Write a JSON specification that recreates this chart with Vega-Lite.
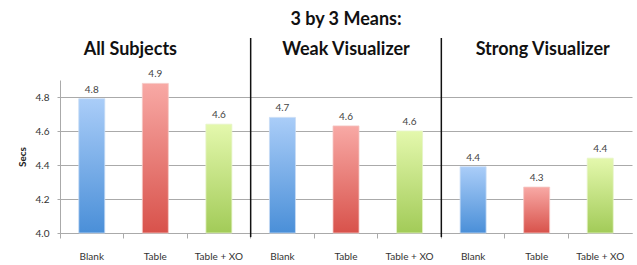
{
  "$schema": "https://vega.github.io/schema/vega-lite/v6.json",
  "autosize": {"type": "none"},
  "width": 572,
  "height": 153,
  "padding": {"left": 60, "top": 80, "right": 5, "bottom": 32},
  "background": "white",
  "config": {"view": {"stroke": null}, "font": "Lato"},
  "data": {"values": [
    {"key": "All Subjects|Blank", "group": "All Subjects", "cond": "Blank", "secs": 4.79},
    {"key": "All Subjects|Table", "group": "All Subjects", "cond": "Table", "secs": 4.88},
    {"key": "All Subjects|Table + XO", "group": "All Subjects", "cond": "Table + XO", "secs": 4.64},
    {"key": "Weak Visualizer|Blank", "group": "Weak Visualizer", "cond": "Blank", "secs": 4.68},
    {"key": "Weak Visualizer|Table", "group": "Weak Visualizer", "cond": "Table", "secs": 4.63},
    {"key": "Weak Visualizer|Table + XO", "group": "Weak Visualizer", "cond": "Table + XO", "secs": 4.6},
    {"key": "Strong Visualizer|Blank", "group": "Strong Visualizer", "cond": "Blank", "secs": 4.39},
    {"key": "Strong Visualizer|Table", "group": "Strong Visualizer", "cond": "Table", "secs": 4.27},
    {"key": "Strong Visualizer|Table + XO", "group": "Strong Visualizer", "cond": "Table + XO", "secs": 4.44}
  ]},
  "encoding": {
    "x": {
      "field": "key", "type": "nominal",
      "scale": {"paddingInner": 0, "paddingOuter": 0, "domain": [
        "All Subjects|Blank", "All Subjects|Table", "All Subjects|Table + XO",
        "Weak Visualizer|Blank", "Weak Visualizer|Table", "Weak Visualizer|Table + XO",
        "Strong Visualizer|Blank", "Strong Visualizer|Table", "Strong Visualizer|Table + XO"]},
      "axis": {
        "title": null, "bandPosition": 0,
        "labelExpr": "split(datum.label, '|')[1]", "labelAngle": 0,
        "labelFont": "Lato", "labelFontSize": 10, "labelColor": "#333",
        "labelPadding": 13, "tickSize": 5, "tickColor": "#aaa",
        "domainColor": "#aaa", "labelAlign": "center"
      }
    },
    "y": {
      "field": "secs", "type": "quantitative",
      "scale": {"domain": [4.0, 4.9], "nice": false, "zero": false},
      "axis": {
        "title": "Secs", "titleFont": "Lato", "titleFontSize": 10, "titleFontWeight": "bold",
        "titleColor": "#222", "titlePadding": 8,
        "values": [4.0, 4.2, 4.4, 4.6, 4.8], "format": ".1f",
        "labelFont": "Lato", "labelFontSize": 10, "labelColor": "#333", "labelPadding": 8,
        "tickSize": 3, "tickColor": "#aaa", "domainColor": "#aaa",
        "grid": true, "gridColor": "#aaa", "gridWidth": 1
      }
    }
  },
  "layer": [
    {
      "transform": [{"filter": "datum.cond == 'Blank'"}],
      "mark": {"type": "bar", "size": 26, "stroke": "#c8dcf5", "strokeWidth": 0.8,
        "color": {"gradient": "linear", "x1": 0, "y1": 0, "x2": 0, "y2": 1,
          "stops": [{"offset": 0, "color": "#aacdf8"}, {"offset": 1, "color": "#4a8fd8"}]}},
      "encoding": {"y2": {"datum": 4.0}}
    },
    {
      "transform": [{"filter": "datum.cond == 'Table'"}],
      "mark": {"type": "bar", "size": 26, "stroke": "#f5c8c5", "strokeWidth": 0.8,
        "color": {"gradient": "linear", "x1": 0, "y1": 0, "x2": 0, "y2": 1,
          "stops": [{"offset": 0, "color": "#f8a9a5"}, {"offset": 1, "color": "#d8524b"}]}},
      "encoding": {"y2": {"datum": 4.0}}
    },
    {
      "transform": [{"filter": "datum.cond == 'Table + XO'"}],
      "mark": {"type": "bar", "size": 26, "stroke": "#e6f5c8", "strokeWidth": 0.8,
        "color": {"gradient": "linear", "x1": 0, "y1": 0, "x2": 0, "y2": 1,
          "stops": [{"offset": 0, "color": "#e4f8ad"}, {"offset": 1, "color": "#a2cb58"}]}},
      "encoding": {"y2": {"datum": 4.0}}
    },
    {
      "mark": {"type": "text", "dy": -9, "font": "Lato", "fontSize": 10, "color": "#444"},
      "encoding": {"text": {"field": "secs", "type": "quantitative", "format": ".1f"}}
    },
    {
      "transform": [{"filter": "datum.cond == 'Blank' && datum.group != 'All Subjects'"}],
      "mark": {"type": "rule", "color": "#111", "strokeWidth": 1.5},
      "encoding": {
        "x": {"field": "key", "type": "nominal", "bandPosition": 0},
        "y": {"datum": 5.147},
        "y2": {"datum": 3.976}
      }
    },
    {
      "transform": [{"filter": "datum.cond == 'Table' && datum.group == 'All Subjects'"}],
      "mark": {"type": "text", "dx": -25, "font": "Lato", "fontSize": 18, "fontWeight": "bold", "color": "#111", "baseline": "alphabetic"},
      "encoding": {"y": {"datum": 5.05}, "text": {"field": "group"}}
    },
    {
      "transform": [{"filter": "datum.cond == 'Table' && datum.group == 'Weak Visualizer'"}],
      "mark": {"type": "text", "font": "Lato", "fontSize": 18, "fontWeight": "bold", "color": "#111", "baseline": "alphabetic"},
      "encoding": {"y": {"datum": 5.05}, "text": {"field": "group"}}
    },
    {
      "transform": [{"filter": "datum.cond == 'Table' && datum.group == 'Strong Visualizer'"}],
      "mark": {"type": "text", "dx": 6, "font": "Lato", "fontSize": 18, "fontWeight": "bold", "color": "#111", "baseline": "alphabetic"},
      "encoding": {"y": {"datum": 5.05}, "text": {"field": "group"}}
    },
    {
      "transform": [{"filter": "datum.key == 'Weak Visualizer|Table'"}],
      "mark": {"type": "text", "font": "Lato", "fontSize": 18, "fontWeight": "bold", "color": "#111", "baseline": "alphabetic"},
      "encoding": {"y": {"datum": 5.222}, "text": {"value": "3 by 3 Means:"}}
    }
  ]
}
